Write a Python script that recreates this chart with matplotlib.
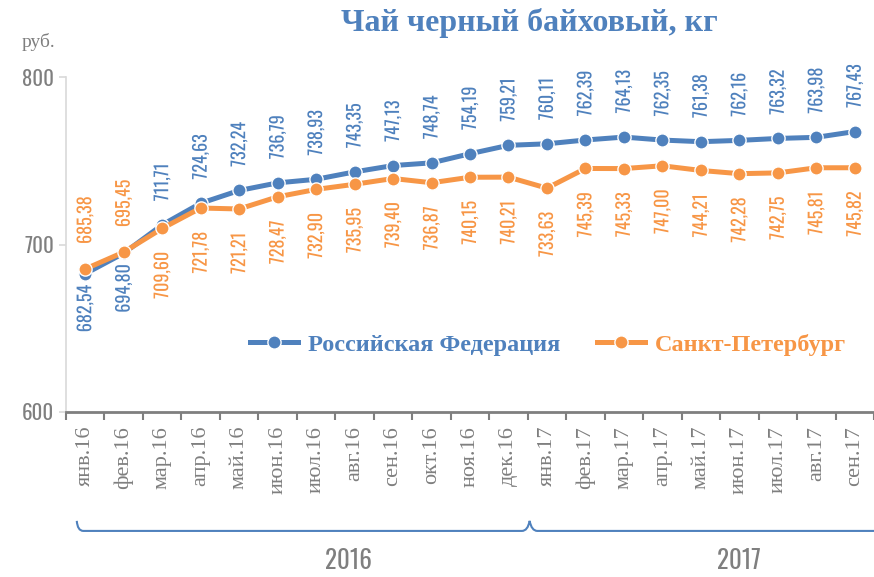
import matplotlib

matplotlib.use("Agg")
import matplotlib.pyplot as plt
import matplotlib.patheffects as pe
from matplotlib.path import Path
from matplotlib.patches import PathPatch
from matplotlib.transforms import blended_transform_factory

months = [
    "янв.16", "фев.16", "мар.16", "апр.16", "май.16", "июн.16", "июл.16",
    "авг.16", "сен.16", "окт.16", "ноя.16", "дек.16",
    "янв.17", "фев.17", "мар.17", "апр.17", "май.17", "июн.17", "июл.17",
    "авг.17", "сен.17",
]
russia = [
    682.54, 694.80, 711.71, 724.63, 732.24, 736.79, 738.93, 743.35, 747.13,
    748.74, 754.19, 759.21, 760.11, 762.39, 764.13, 762.35, 761.38, 762.16,
    763.32, 763.98, 767.43,
]
spb = [
    685.38, 695.45, 709.60, 721.78, 721.21, 728.47, 732.90, 735.95, 739.40,
    736.87, 740.15, 740.21, 733.63, 745.39, 745.33, 747.00, 744.21, 742.28,
    742.75, 745.81, 745.82,
]
years = ["2016", "2017"]

BLUE = "#4F81BD"
ORANGE = "#F79646"
GREY = "#7F7F7F"
SERIF = ["Liberation Serif", "DejaVu Serif"]
NARROW = ["Oswald", "DejaVu Sans"]

# first two points: orange label above, blue below
FLIPPED = {0, 1}


def fmt(v):
    return f"{v:.2f}".replace(".", ",")


fig = plt.figure(figsize=(8.74, 5.77), dpi=100)
ax = fig.add_axes([66 / 874, 165 / 577, 808 / 874, 335 / 577])

x = list(range(len(months)))
ax.plot(x, russia, color=BLUE, lw=3.6, marker="o", ms=9.5,
        mec="white", mew=1.0, label="Российская Федерация", zorder=3)
ax.plot(x, spb, color=ORANGE, lw=3.6, marker="o", ms=9.5,
        mec="white", mew=1.0, label="Санкт-Петербург", zorder=4)

halo = [pe.withStroke(linewidth=3, foreground="white")]
for i in x:
    if i in FLIPPED:
        b_off, b_va = -8, "top"
        o_off, o_va = 18, "bottom"
    else:
        b_off, b_va = 17, "bottom"
        o_off, o_va = -17, "top"
    ax.annotate(fmt(russia[i]), (i, russia[i]), xytext=(0, b_off),
                textcoords="offset points", rotation=90, ha="center", va=b_va,
                color=BLUE, fontsize=13, fontweight="light", family=NARROW,
                path_effects=halo, zorder=5)
    ax.annotate(fmt(spb[i]), (i, spb[i]), xytext=(0, o_off),
                textcoords="offset points", rotation=90, ha="center", va=o_va,
                color=ORANGE, fontsize=13, fontweight="light", family=NARROW,
                path_effects=halo, zorder=5)

ax.set_xlim(-0.5, 20.27)
ax.set_ylim(600, 800)
ax.set_yticks([600, 700, 800])
ax.tick_params(axis="y", colors="#D9D9D9", labelcolor=GREY, length=5,
               width=1.2, labelsize=15)
for lbl in ax.get_yticklabels():
    lbl.set_family(NARROW)
    lbl.set_fontweight("light")

ax.set_xticks(x)
ax.set_xticklabels(months, rotation=90, family=SERIF, fontsize=16, color=GREY)
ax.set_xticks([i - 0.5 for i in range(len(months) + 1)], minor=True)
ax.tick_params(axis="x", which="major", length=0, pad=10)
ax.tick_params(axis="x", which="minor", length=6, width=1.5, color=GREY)

for side in ("top", "right"):
    ax.spines[side].set_visible(False)
ax.spines["left"].set_color("#D9D9D9")
ax.spines["left"].set_linewidth(1.2)
ax.spines["bottom"].set_color(GREY)
ax.spines["bottom"].set_linewidth(2)

# year braces under the month labels
tr = blended_transform_factory(ax.transData, ax.transAxes)
by, bh = -0.355, 0.03
brace = Path(
    [(-0.22, by + bh), (-0.2, by), (-0.05, by), (11.35, by), (11.5, by),
     (11.55, by + bh), (11.6, by), (11.75, by), (21.0, by)],
    [Path.MOVETO, Path.CURVE3, Path.CURVE3, Path.LINETO, Path.CURVE3,
     Path.CURVE3, Path.CURVE3, Path.CURVE3, Path.LINETO],
)
ax.add_patch(PathPatch(brace, fill=False, ec=BLUE, lw=1.5, transform=tr,
                       clip_on=False))
for label, xpos in zip(years, [6.85, 17.0]):
    ax.text(xpos, -0.445, label, transform=tr, ha="center", va="center",
            family=NARROW, fontsize=18, fontweight="light", color=GREY)

fig.text(0.606, 0.961, "Чай черный байховый, кг", ha="center", va="center",
         family=SERIF, fontsize=23, fontweight="bold", color=BLUE)
fig.text(0.044, 0.927, "руб.", ha="center", va="center", family=SERIF,
         fontsize=14, color=GREY)

leg = ax.legend(loc="center", bbox_to_anchor=(548 / 874, 1 - 345 / 577),
                bbox_transform=fig.transFigure, ncol=2, frameon=False,
                handlelength=2.0, columnspacing=1.5, handletextpad=0.4,
                labelcolor="linecolor",
                prop={"family": SERIF, "size": 17.5, "weight": "bold"})

fig.savefig("out.png", dpi=100)
